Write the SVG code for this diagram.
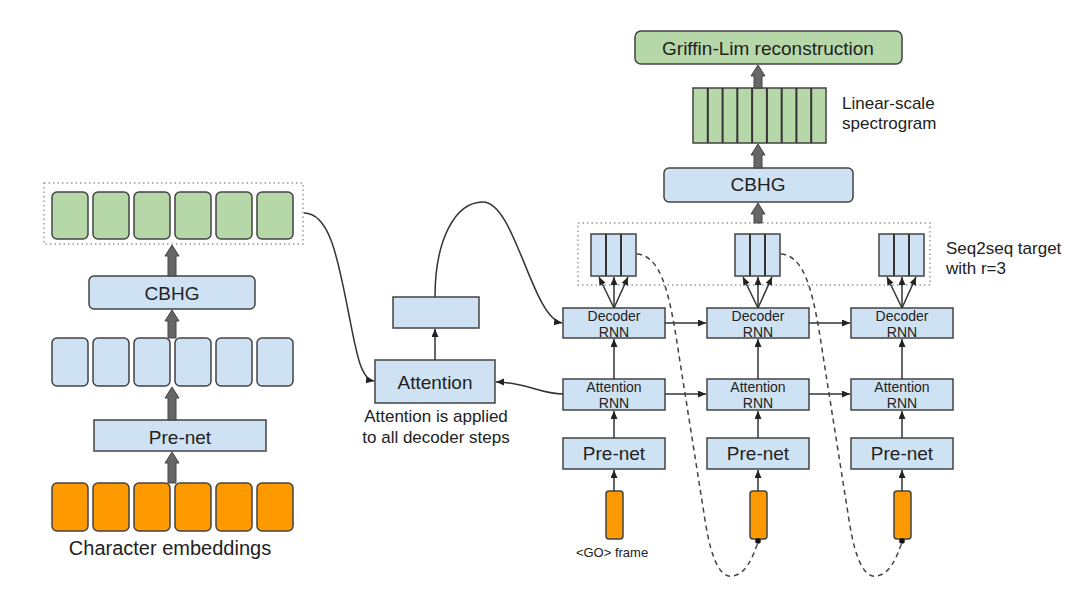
<svg xmlns="http://www.w3.org/2000/svg" width="1080" height="610" viewBox="0 0 1080 610">
<defs>
<style>
text{font-family:"Liberation Sans",Arial,sans-serif;fill:#222;}
.blue{fill:#cfe2f3;stroke:#434343;stroke-width:1.5;}
.green{fill:#b6d7a8;stroke:#434343;stroke-width:1.5;}
.orange{fill:#ff9900;stroke:#434343;stroke-width:1.5;}
.dotbox{fill:none;stroke:#999;stroke-width:1.5;stroke-dasharray:1.5 3;}
.div{stroke:#333;stroke-width:2;}
.big{fill:#666;stroke:#444;stroke-width:1;}
.ln{fill:none;stroke:#333;stroke-width:1.5;}
.dash{fill:none;stroke:#444;stroke-width:1.5;stroke-dasharray:5 4;}
.c{text-anchor:middle;}
</style>
<marker id="ah" markerUnits="userSpaceOnUse" markerWidth="9" markerHeight="8" refX="8" refY="3.5" orient="auto">
<path d="M0,0 L8,3.5 L0,7 z" fill="#222"/>
</marker>
</defs>
<rect width="1080" height="610" fill="#fff"/>

<g id="encoder-outputs">
<rect class="dotbox" x="44" y="183" width="259" height="61"/>
<rect class="green" x="52" y="192" width="36" height="47" rx="5"/>
<rect class="green" x="93" y="192" width="36" height="47" rx="5"/>
<rect class="green" x="134" y="192" width="36" height="47" rx="5"/>
<rect class="green" x="175" y="192" width="36" height="47" rx="5"/>
<rect class="green" x="216" y="192" width="36" height="47" rx="5"/>
<rect class="green" x="257" y="192" width="36" height="47" rx="5"/>
</g>
<g id="enc-cbhg">
<rect class="blue" x="89" y="276" width="166" height="33" rx="5"/>
<text class="c" x="172" y="300" font-size="19">CBHG</text>
</g>
<g id="enc-hidden">
<rect class="blue" x="52" y="338" width="36" height="48" rx="5"/>
<rect class="blue" x="93" y="338" width="36" height="48" rx="5"/>
<rect class="blue" x="134" y="338" width="36" height="48" rx="5"/>
<rect class="blue" x="175" y="338" width="36" height="48" rx="5"/>
<rect class="blue" x="216" y="338" width="36" height="48" rx="5"/>
<rect class="blue" x="257" y="338" width="36" height="48" rx="5"/>
</g>
<g id="enc-prenet">
<rect class="blue" x="94" y="420" width="172" height="31"/>
<text class="c" x="180" y="444" font-size="19">Pre-net</text>
</g>
<g id="char-embeddings">
<rect class="orange" x="52" y="483" width="36" height="48" rx="5"/>
<rect class="orange" x="93" y="483" width="36" height="48" rx="5"/>
<rect class="orange" x="134" y="483" width="36" height="48" rx="5"/>
<rect class="orange" x="175" y="483" width="36" height="48" rx="5"/>
<rect class="orange" x="216" y="483" width="36" height="48" rx="5"/>
<rect class="orange" x="257" y="483" width="36" height="48" rx="5"/>
<text class="c" x="170" y="555" font-size="20">Character embeddings</text>
</g>

<g id="attention">
<rect class="blue" x="375" y="360" width="120" height="43"/>
<text class="c" x="435" y="389" font-size="19">Attention</text>
<text class="c" x="436" y="422" font-size="17">Attention is applied</text>
<text class="c" x="436" y="443" font-size="17">to all decoder steps</text>
</g>
<g id="context">
<rect class="blue" x="393" y="297" width="86" height="31"/>
</g>

<g id="griffin-lim">
<rect class="green" x="635" y="31" width="267" height="33" rx="6"/>
<text class="c" x="768" y="55" font-size="19">Griffin-Lim reconstruction</text>
</g>
<g id="linear-spectrogram">
<rect class="green" x="693" y="88" width="133" height="55"/>
<line class="div" x1="707.8" y1="88" x2="707.8" y2="143"/>
<line class="div" x1="722.6" y1="88" x2="722.6" y2="143"/>
<line class="div" x1="737.3" y1="88" x2="737.3" y2="143"/>
<line class="div" x1="752.1" y1="88" x2="752.1" y2="143"/>
<line class="div" x1="766.9" y1="88" x2="766.9" y2="143"/>
<line class="div" x1="781.7" y1="88" x2="781.7" y2="143"/>
<line class="div" x1="796.4" y1="88" x2="796.4" y2="143"/>
<line class="div" x1="811.2" y1="88" x2="811.2" y2="143"/>
<text x="842" y="109" font-size="17">Linear-scale</text>
<text x="842" y="129" font-size="17">spectrogram</text>
</g>
<g id="dec-cbhg">
<rect class="blue" x="664" y="168" width="189" height="34" rx="5"/>
<text class="c" x="758" y="191" font-size="19">CBHG</text>
</g>

<g id="seq2seq-target">
<rect class="dotbox" x="578" y="223" width="352" height="62"/>
<rect class="blue" x="591" y="234" width="45" height="42"/>
<line class="div" x1="606" y1="234" x2="606" y2="276"/>
<line class="div" x1="621" y1="234" x2="621" y2="276"/>
<rect class="blue" x="735" y="234" width="45" height="42"/>
<line class="div" x1="750" y1="234" x2="750" y2="276"/>
<line class="div" x1="765" y1="234" x2="765" y2="276"/>
<rect class="blue" x="879" y="234" width="45" height="42"/>
<line class="div" x1="894" y1="234" x2="894" y2="276"/>
<line class="div" x1="909" y1="234" x2="909" y2="276"/>
<text x="946" y="254" font-size="17">Seq2seq target</text>
<text x="946" y="274" font-size="17">with r=3</text>
</g>

<g id="decoder-rnn">
<rect class="blue" x="563" y="308" width="102" height="30"/>
<text class="c" x="614" y="321" font-size="14">Decoder</text>
<text class="c" x="614" y="337" font-size="14">RNN</text>
<rect class="blue" x="707" y="308" width="102" height="30"/>
<text class="c" x="758" y="321" font-size="14">Decoder</text>
<text class="c" x="758" y="337" font-size="14">RNN</text>
<rect class="blue" x="851" y="308" width="102" height="30"/>
<text class="c" x="902" y="321" font-size="14">Decoder</text>
<text class="c" x="902" y="337" font-size="14">RNN</text>
</g>
<g id="attention-rnn">
<rect class="blue" x="563" y="379" width="102" height="31"/>
<text class="c" x="614" y="392" font-size="14">Attention</text>
<text class="c" x="614" y="408" font-size="14">RNN</text>
<rect class="blue" x="707" y="379" width="102" height="31"/>
<text class="c" x="758" y="392" font-size="14">Attention</text>
<text class="c" x="758" y="408" font-size="14">RNN</text>
<rect class="blue" x="851" y="379" width="102" height="31"/>
<text class="c" x="902" y="392" font-size="14">Attention</text>
<text class="c" x="902" y="408" font-size="14">RNN</text>
</g>
<g id="dec-prenet">
<rect class="blue" x="563" y="438" width="102" height="31"/>
<text class="c" x="614" y="460" font-size="19">Pre-net</text>
<rect class="blue" x="707" y="438" width="102" height="31"/>
<text class="c" x="758" y="460" font-size="19">Pre-net</text>
<rect class="blue" x="851" y="438" width="102" height="31"/>
<text class="c" x="902" y="460" font-size="19">Pre-net</text>
</g>
<g id="dec-frames">
<rect class="orange" x="606" y="491" width="17" height="48" rx="3"/>
<rect class="orange" x="750" y="491" width="17" height="48" rx="3"/>
<rect class="orange" x="894" y="491" width="17" height="48" rx="3"/>
<text class="c" x="612" y="557" font-size="13">&lt;GO&gt; frame</text>
</g>

<g id="connectors">
<polygon class="big" points="168,483 168,463 165,463 172,452 179,463 176,463 176,483"/>
<polygon class="big" points="168,420 168,398 165,398 172,387 179,398 176,398 176,420"/>
<polygon class="big" points="168,338 168,321 165,321 172,310 179,321 176,321 176,338"/>
<polygon class="big" points="168,276 168,256 165,256 172,245 179,256 176,256 176,276"/>
<polygon class="big" points="754,223 754,214 751,214 758,203 765,214 762,214 762,223"/>
<polygon class="big" points="754,168 754,155 751,155 758,144 765,155 762,155 762,168"/>
<polygon class="big" points="754,88 754,76 751,76 758,65 765,76 762,76 762,88"/>

<path class="ln" d="M304,213 C330,213 338,260 348,310 C356,350 360,379 374,381" marker-end="url(#ah)"/>
<path class="ln" d="M435,360 L435,329" marker-end="url(#ah)"/>
<path class="ln" d="M435,297 C435,240 455,202 483,202 C515,202 532,318 562,323" marker-end="url(#ah)"/>
<path class="ln" d="M563,394 C540,394 525,382 496,382" marker-end="url(#ah)"/>

<path class="ln" d="M614,308 L599,277" marker-end="url(#ah)"/>
<path class="ln" d="M614,308 L614,277" marker-end="url(#ah)"/>
<path class="ln" d="M614,308 L628,277" marker-end="url(#ah)"/>
<path class="ln" d="M758,308 L743,277" marker-end="url(#ah)"/>
<path class="ln" d="M758,308 L758,277" marker-end="url(#ah)"/>
<path class="ln" d="M758,308 L772,277" marker-end="url(#ah)"/>
<path class="ln" d="M902,308 L887,277" marker-end="url(#ah)"/>
<path class="ln" d="M902,308 L902,277" marker-end="url(#ah)"/>
<path class="ln" d="M902,308 L916,277" marker-end="url(#ah)"/>

<path class="ln" d="M665,323 L706,323" marker-end="url(#ah)"/>
<path class="ln" d="M809,323 L850,323" marker-end="url(#ah)"/>
<path class="ln" d="M665,394 L706,394" marker-end="url(#ah)"/>
<path class="ln" d="M809,394 L850,394" marker-end="url(#ah)"/>

<path class="ln" d="M614,379 L614,339" marker-end="url(#ah)"/>
<path class="ln" d="M758,379 L758,339" marker-end="url(#ah)"/>
<path class="ln" d="M902,379 L902,339" marker-end="url(#ah)"/>
<path class="ln" d="M614,438 L614,411" marker-end="url(#ah)"/>
<path class="ln" d="M758,438 L758,411" marker-end="url(#ah)"/>
<path class="ln" d="M902,438 L902,411" marker-end="url(#ah)"/>
<path class="ln" d="M614,491 L614,470" marker-end="url(#ah)"/>
<path class="ln" d="M758,491 L758,470" marker-end="url(#ah)"/>
<path class="ln" d="M902,491 L902,470" marker-end="url(#ah)"/>

<path class="dash" d="M637,254 C660,256 668,290 675,330 L705,520 C712,565 722,578 733,576 C745,574 752,560 758,542"/>
<path class="dash" d="M781,254 C804,256 812,290 819,330 L849,520 C856,565 866,578 877,576 C889,574 896,560 902,542"/>
<circle cx="758" cy="541" r="2.8" fill="#111"/>
<circle cx="902" cy="541" r="2.8" fill="#111"/>
</g>
</svg>
